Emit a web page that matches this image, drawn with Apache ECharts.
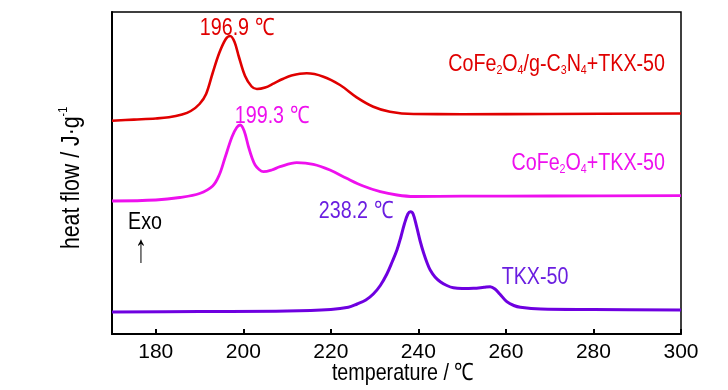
<!DOCTYPE html>
<html>
<head>
<meta charset="utf-8">
<script src="https://cdn.jsdelivr.net/npm/echarts@6/dist/echarts.min.js"></script>
<style>html,body{margin:0;padding:0;background:#fff;}#c{width:728px;height:390px;}</style>
</head>
<body>
<div id="c"></div>
<script>
// ---- data (temperature in ℃, heat flow in arbitrary units, offset curves) ----
var xTicks = [180, 200, 220, 240, 260, 280, 300];

var tempRed = [170,175,180,183,186,188,190,191.5,193,194.5,196,197,198,199,200.4,201.9,203.1,205,207,209,211,214.5,218.3,222.1,225.9,229.7,233.5,238.9,250,270,300];
var flowRed = [213.3,214.4,215.5,216.7,219.5,223,230,240,261,281,295,298,292,277,258,247.5,245,246.5,250.7,255,258.5,260.7,257.3,249,236.7,227.3,222.3,220,219.8,220,220.5];

var tempMag = [170,180,185.5,190,193,194.5,195.8,197.4,198.5,199.3,200.2,201.2,202,202.7,203.6,204.6,206.5,208.4,212.2,216,219.8,223.6,227.4,231.3,235.1,239,250,270,300];
var flowMag = [133,134,136.5,140.5,148,159,176,197,206.5,209,203,187,176,169,164.5,162.3,164,167.3,171.3,169.7,164,155.7,148,142.3,139,137.5,137.8,138,138.3];

var tempPur = [170,190,210,220,224,226,228,229.7,231.3,232.8,234,235.1,236,236.8,237.6,238.2,238.8,239.6,240.4,241.2,242,242.7,243.8,245,246.5,248,250,252.6,255,256.4,257.5,258.6,260.2,261.8,263.3,268,280,300];
var flowPur = [22,22.5,23,24.5,26.7,30,34,40,48.5,60,72,84,97,110,120,122.3,120,107.3,93,81,71,64,57,52.3,48.5,46.2,45.5,45.7,46.7,47.3,45,40,32.3,28.5,26.7,25,24.5,24];

var seriesNames = ['CoFe2O4/g-C3N4+TKX-50', 'CoFe2O4+TKX-50', 'TKX-50'];
var peakLabels = ['196.9 ℃', '199.3 ℃', '238.2 ℃'];

function pairs(xs, ys) { return xs.map(function (x, i) { return [x, ys[i]]; }); }

var FONT = "'Liberation Sans', Arial, sans-serif";
var NARROW = 0.82;
var cRed = '#e00000', cMag = '#ee10ee', cPur = '#6e00e0', cPurText = '#6a1ee0';

function richFor(color) {
  return {
    n: { fontFamily: FONT, fontSize: 24, fill: color, lineHeight: 28 },
    s: { fontFamily: FONT, fontSize: 13, fill: color, lineHeight: 13, verticalAlign: 'bottom', padding: [0, 0, 1, 0] }
  };
}
function narrowText(x, y, text, color, size, align) {
  return { type: 'text', x: x, y: y, scaleX: NARROW,
    style: { text: text, fill: color, font: size + 'px ' + FONT, align: align || 'center', verticalAlign: 'middle' } };
}

var chart = echarts.init(document.getElementById('c'));
chart.setOption({
  animation: false,
  backgroundColor: '#fff',
  grid: { left: 112, right: 47, top: 12, bottom: 56, show: true, borderColor: '#000', borderWidth: 1.5, outerBoundsMode: 'none' },
  xAxis: {
    type: 'value', min: 170, max: 300,
    axisLine: { show: true, lineStyle: { color: '#000', width: 2 } },
    axisTick: { show: true, inside: true, length: 5, customValues: xTicks, lineStyle: { color: '#000', width: 2 } },
    axisLabel: { customValues: xTicks, fontFamily: FONT, fontSize: 21, color: '#000', margin: 8 },
    splitLine: { show: false }
  },
  yAxis: {
    type: 'value', min: 0, max: 322,
    axisLine: { show: true, lineStyle: { color: '#000', width: 2 } },
    axisTick: { show: false },
    axisLabel: { show: false },
    splitLine: { show: false }
  },
  series: [
    { name: seriesNames[0], type: 'line', data: pairs(tempRed, flowRed), showSymbol: false, smooth: 0.35, lineStyle: { color: cRed, width: 2.6 } },
    { name: seriesNames[1], type: 'line', data: pairs(tempMag, flowMag), showSymbol: false, smooth: 0.35, lineStyle: { color: cMag, width: 2.8 } },
    { name: seriesNames[2], type: 'line', data: pairs(tempPur, flowPur), showSymbol: false, smooth: 0.35, lineStyle: { color: cPur, width: 3 } }
  ],
  graphic: [
    narrowText(237, 28, peakLabels[0], cRed, 24),
    narrowText(272, 116, peakLabels[1], cMag, 24),
    narrowText(356, 211, peakLabels[2], cPurText, 24),
    { type: 'text', x: 665, y: 64, scaleX: NARROW, style: { text: '{n|CoFe}{s|2}{n|O}{s|4}{n|/g-C}{s|3}{n|N}{s|4}{n|+TKX-50}', rich: richFor(cRed), align: 'right', verticalAlign: 'middle' } },
    { type: 'text', x: 665, y: 163, scaleX: NARROW, style: { text: '{n|CoFe}{s|2}{n|O}{s|4}{n|+TKX-50}', rich: richFor(cMag), align: 'right', verticalAlign: 'middle' } },
    narrowText(535, 277, 'TKX-50', cPurText, 24),
    narrowText(145, 222, 'Exo', '#000', 24),
    { type: 'text', x: 141, y: 251, scaleX: 0.6, style: { text: '↑', fill: '#000', font: '40px ' + FONT, align: 'center', verticalAlign: 'middle' } },
    narrowText(403, 373, 'temperature / ℃', '#000', 24),
    { type: 'text', x: 72, y: 178, rotation: Math.PI / 2, scaleX: NARROW,
      style: { text: '{n|heat flow / J·g}{p|-1}', align: 'center', verticalAlign: 'middle',
        rich: { n: { fontFamily: FONT, fontSize: 26, fill: '#000', lineHeight: 30 },
                p: { fontFamily: FONT, fontSize: 13, fill: '#000', lineHeight: 13, verticalAlign: 'top' } } } }
  ]
});
</script>
</body>
</html>
